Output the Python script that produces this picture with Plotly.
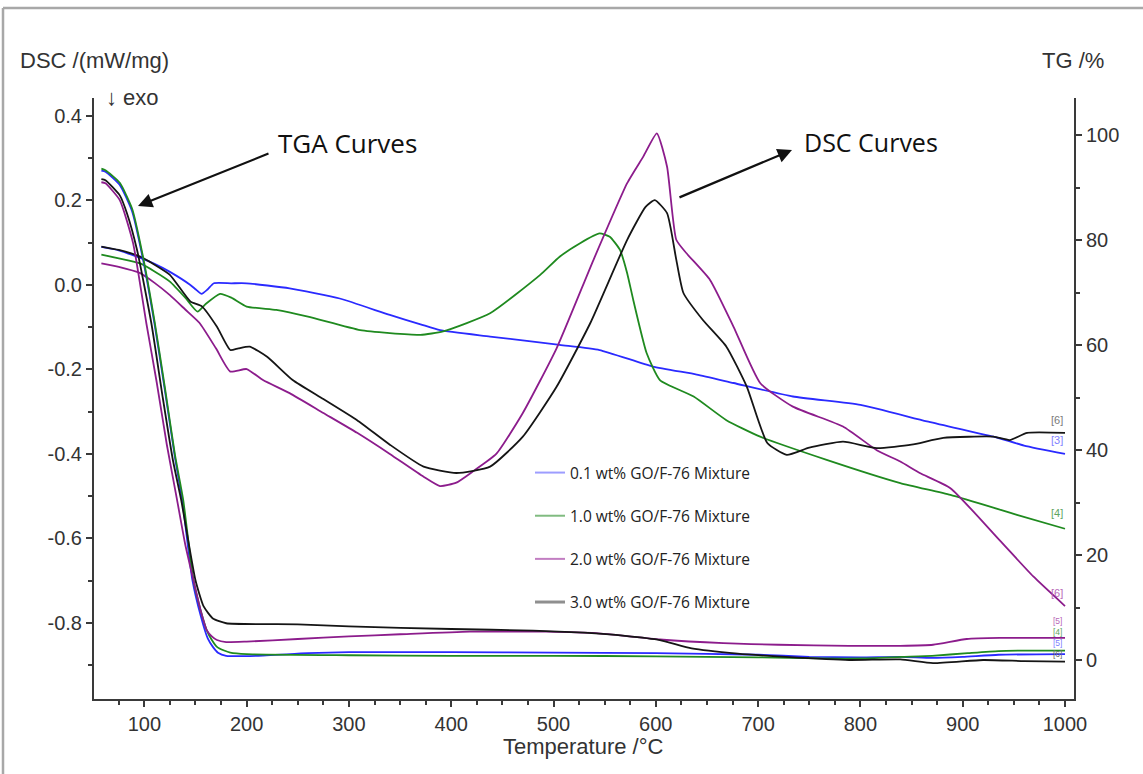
import plotly.graph_objects as go

# ---------------- data ----------------
series_names = ["0.1 wt% GO/F-76 Mixture", "1.0 wt% GO/F-76 Mixture",
                "2.0 wt% GO/F-76 Mixture", "3.0 wt% GO/F-76 Mixture"]

# DSC curves (left axis, mW/mg)
dsc_01_T = [58, 75, 96, 110, 125, 145, 150, 156, 162, 168, 185, 200, 242, 291, 340, 370, 389, 438,
            506, 545, 597, 640, 676, 734, 800, 865, 930, 960, 1000]
dsc_01 = [0.090, 0.082, 0.064, 0.050, 0.031, 0.000, -0.010, -0.021, -0.010, 0.004, 0.004, 0.004,
          -0.008, -0.032, -0.071, -0.093, -0.107, -0.122, -0.142, -0.154, -0.193, -0.212, -0.232,
          -0.264, -0.284, -0.323, -0.359, -0.380, -0.400]

dsc_10_T = [58, 75, 96, 110, 125, 140, 152, 160, 174, 185, 200, 229, 260, 311, 340, 370, 392, 438,
            487, 506, 526, 545, 555, 565, 572, 578, 591, 604, 637, 669, 702, 767, 839, 888, 953, 1000]
dsc_10 = [0.072, 0.063, 0.051, 0.032, 0.008, -0.030, -0.063, -0.045, -0.021, -0.030, -0.051,
          -0.059, -0.075, -0.107, -0.114, -0.118, -0.110, -0.067, 0.024, 0.067, 0.099, 0.122, 0.114,
          0.083, 0.028, -0.036, -0.161, -0.225, -0.264, -0.320, -0.359, -0.414, -0.469, -0.497,
          -0.544, -0.577]

dsc_20_T = [58, 75, 96, 110, 125, 140, 154, 170, 184, 200, 216, 242, 275, 308, 340, 373, 389, 405,
            422, 444, 470, 503, 539, 572, 588, 601, 611, 620, 630, 653, 676, 702, 734, 783, 816, 839,
            858, 888, 936, 969, 1000]
dsc_20 = [0.051, 0.043, 0.028, 0.005, -0.024, -0.058, -0.090, -0.150, -0.205, -0.199, -0.225,
          -0.256, -0.303, -0.350, -0.400, -0.454, -0.476, -0.468, -0.440, -0.400, -0.303, -0.150,
          0.059, 0.241, 0.305, 0.359, 0.280, 0.107, 0.075, 0.012, -0.099, -0.232, -0.288, -0.335,
          -0.391, -0.418, -0.445, -0.481, -0.604, -0.690, -0.760]

dsc_30_T = [58, 75, 96, 110, 125, 145, 156, 171, 184, 192, 203, 220, 245, 275, 308, 340, 373, 405,
            438, 470, 503, 536, 572, 590, 599, 611, 620, 627, 646, 669, 689, 709, 728, 750, 783, 816,
            850, 881, 930, 946, 963, 1000]
dsc_30 = [0.091, 0.083, 0.067, 0.048, 0.024, -0.039, -0.050, -0.099, -0.154, -0.150, -0.146,
          -0.170, -0.225, -0.270, -0.320, -0.378, -0.430, -0.445, -0.430, -0.359, -0.241, -0.090,
          0.107, 0.185, 0.201, 0.170, 0.060, -0.019, -0.083, -0.146, -0.241, -0.374, -0.402, -0.385,
          -0.371, -0.386, -0.378, -0.362, -0.359, -0.367, -0.350, -0.350]

# TG curves (right axis, %)
tg_01_T = [58, 62, 76, 88, 98, 110, 120, 130, 137, 147, 155, 162, 167, 172, 180, 210, 260, 300, 400,
           500, 600, 700, 750, 800, 840, 870, 900, 935, 1000]
tg_01 = [93.2, 93.0, 90.5, 85.5, 77.0, 64.0, 51.5, 38.5, 30.5, 15.2, 8.5, 4.1, 2.5, 1.4, 0.8, 0.8,
         1.3, 1.5, 1.5, 1.4, 1.3, 1.0, 0.6, 0.5, 0.6, 0.4, 0.6, 1.0, 1.1]

tg_10_T = [58, 62, 76, 88, 98, 110, 120, 130, 138, 148, 155, 161, 166, 171, 178, 184, 200, 300, 400,
           500, 600, 700, 760, 800, 840, 870, 905, 935, 970, 1000]
tg_10 = [93.6, 93.3, 90.9, 86.0, 77.5, 64.5, 52.0, 39.0, 30.5, 15.2, 9.5, 5.7, 3.8, 2.5, 1.8, 1.4,
         1.1, 0.9, 0.8, 0.8, 0.7, 0.5, 0.3, 0.3, 0.6, 0.8, 1.3, 1.7, 1.8, 1.8]

tg_20_T = [58, 62, 76, 89, 102, 112, 122, 132, 140, 148, 155, 161, 166, 171, 180, 200, 250, 300, 350,
           418, 493, 542, 604, 666, 720, 789, 839, 871, 904, 936, 1000]
tg_20 = [91.0, 90.8, 87.6, 79.4, 64.1, 53.0, 41.0, 30.5, 22.0, 15.2, 9.5, 5.7, 4.5, 3.8, 3.4, 3.5,
         4.0, 4.5, 4.9, 5.4, 5.4, 5.1, 3.9, 3.2, 2.9, 2.7, 2.7, 2.9, 4.0, 4.2, 4.2]

tg_30_T = [58, 62, 76, 83, 93, 107, 118, 128, 136, 150, 158, 167, 180, 250, 300, 400, 480, 530, 570,
           604, 635, 680, 727, 789, 839, 871, 920, 960, 1000]
tg_30 = [91.6, 91.4, 88.5, 85.1, 78.0, 64.0, 50.0, 38.0, 30.5, 15.2, 10.2, 7.9, 7.0, 6.8, 6.4, 5.9,
         5.6, 5.2, 4.6, 3.8, 2.2, 1.2, 0.6, 0.0, 0.1, -0.6, 0.0, -0.2, -0.3]

line_colors = ["#2a2aff", "#1f8a1f", "#8c1c8c", "#151515"]
legend_colors = ["#9d9dff", "#80bb80", "#c27ec2", "#8f8f8f"]

x_ticks = [100, 200, 300, 400, 500, 600, 700, 800, 900, 1000]
left_tick_vals = [-0.8, -0.6, -0.4, -0.2, 0.0, 0.2, 0.4]
left_tick_text = ["-0.8", "-0.6", "-0.4", "-0.2", "0.0", "0.2", "0.4"]
right_tick_vals = [0, 20, 40, 60, 80, 100]

end_labels = ["[6]", "[3]", "[4]", "[6]", "[5]", "[4]", "[5]", "[6]"]
end_label_colors = ["#7a7a7a", "#7f7fff", "#5fa55f", "#b868b8", "#b868b8", "#5fa55f", "#7f7fff", "#6a6a6a"]

# ---------------- layout geometry (pixels) ----------------
W, H = 1143, 774
PL, PR, PT, PB = 94, 1074, 98, 699


def px2paper(px, py):
    return (px - PL) / (PR - PL), (PB - py) / (PB - PT)


fig = go.Figure()

dsc_T = [dsc_01_T, dsc_10_T, dsc_20_T, dsc_30_T]
dsc_V = [dsc_01, dsc_10, dsc_20, dsc_30]
tg_T = [tg_01_T, tg_10_T, tg_20_T, tg_30_T]
tg_V = [tg_01, tg_10, tg_20, tg_30]

for i in range(4):
    fig.add_trace(go.Scatter(x=tg_T[i], y=tg_V[i], yaxis="y2", mode="lines", showlegend=False,
                             line=dict(color=line_colors[i], width=1.8, shape="spline", smoothing=0.5),
                             name=series_names[i] + " TG"))
for i in range(4):
    fig.add_trace(go.Scatter(x=dsc_T[i], y=dsc_V[i], mode="lines", showlegend=False,
                             line=dict(color=line_colors[i], width=1.8, shape="spline", smoothing=0.5),
                             name=series_names[i] + " DSC"))
# legend entries (pale, as in the reference)
for i in range(4):
    fig.add_trace(go.Scatter(x=[None], y=[None], mode="lines", name=series_names[i],
                             legendgroup="g%d" % i,
                             line=dict(color=legend_colors[i], width=2 if i < 3 else 3)))

axis_font = dict(family="Liberation Sans, Arial, sans-serif", size=20, color="#333333")
axis_line = dict(showline=True, linecolor="#3a3a3a", linewidth=2, showgrid=False, zeroline=False,
                 ticks="outside", ticklen=6, tickwidth=1.5, tickcolor="#3a3a3a")

lg_x, lg_y = px2paper(530, 456)
fig.update_layout(
    width=W, height=H,
    margin=dict(l=PL, r=W - PR, t=PT, b=H - PB),
    paper_bgcolor="white", plot_bgcolor="white",
    xaxis=dict(range=[50.8, 1008.8], tickvals=x_ticks, tickfont=axis_font,
               minor=dict(dtick=25, tick0=0, ticks="outside", ticklen=4, tickcolor="#3a3a3a"),
               **axis_line),
    yaxis=dict(range=[-0.980, 0.4426], tickvals=left_tick_vals, ticktext=left_tick_text,
               tickfont=axis_font,
               minor=dict(dtick=0.1, tick0=0, ticks="outside", ticklen=4, tickcolor="#3a3a3a"),
               **axis_line),
    yaxis2=dict(range=[-7.43, 107.05], overlaying="y", side="right", tickvals=right_tick_vals,
                tickfont=axis_font,
                minor=dict(dtick=10, tick0=0, ticks="outside", ticklen=4, tickcolor="#3a3a3a"),
                **axis_line),
    legend=dict(x=lg_x, y=lg_y, xanchor="left", yanchor="top", bgcolor="rgba(0,0,0,0)",
                font=dict(family="Open Sans, sans-serif", size=15.5, color="#222222"),
                tracegroupgap=20),
    showlegend=True,
)

ann = []


def text_ann(txt, px, py, size, family="Liberation Sans, Arial, sans-serif", color="#333333",
             xanchor="center"):
    x, y = px2paper(px, py)
    ann.append(dict(text=txt, x=x, y=y, xref="paper", yref="paper", showarrow=False,
                    xanchor=xanchor, yanchor="middle", font=dict(family=family, size=size, color=color)))


text_ann("DSC /(mW/mg)", 94, 60, 22)
text_ann("TG /%", 1073, 60, 22)
text_ann("↓ exo", 132, 97, 22)
text_ann("Temperature /°C", 583, 746, 22)
text_ann("TGA Curves", 347, 143, 26, family="Open Sans, sans-serif", color="#111111")
text_ann("DSC Curves", 871, 142, 25, family="Open Sans, sans-serif", color="#111111")

end_label_y = [420, 440, 513, 593, 621, 632, 643, 654]
end_label_size = [11, 11, 11, 11, 8.5, 8.5, 8.5, 8.5]
for t, c, yy, s in zip(end_labels, end_label_colors, end_label_y, end_label_size):
    text_ann(t, 1057, yy, s, color=c)

# arrows (head given in data coordinates, tail as pixel offset)
ann.append(dict(x=93.8, y=0.187, xref="x", yref="y", ax=132, ay=-53, text="", showarrow=True,
                arrowhead=2, arrowsize=1.3, arrowwidth=2.2, arrowcolor="#111111"))
ann.append(dict(x=733.1, y=0.3195, xref="x", yref="y", ax=-114, ay=48, text="", showarrow=True,
                arrowhead=2, arrowsize=1.3, arrowwidth=2.2, arrowcolor="#111111"))
fig.update_layout(annotations=ann)

# image frame (top and left edges)
x0, y0 = px2paper(3, 8)
x1, _ = px2paper(1143, 8)
_, y1 = px2paper(3, 774)
fig.add_shape(type="line", xref="paper", yref="paper", x0=x0, y0=y0, x1=x1, y1=y0,
              line=dict(color="#a8a8a8", width=2.5))
fig.add_shape(type="line", xref="paper", yref="paper", x0=x0, y0=y0, x1=x0, y1=y1,
              line=dict(color="#a8a8a8", width=2.5))

# remove the browser's default 8px page margin so the figure sits at the window origin
fig.write_html("out.html", config={"displayModeBar": False},
               post_script="document.body.style.margin='0px';")
